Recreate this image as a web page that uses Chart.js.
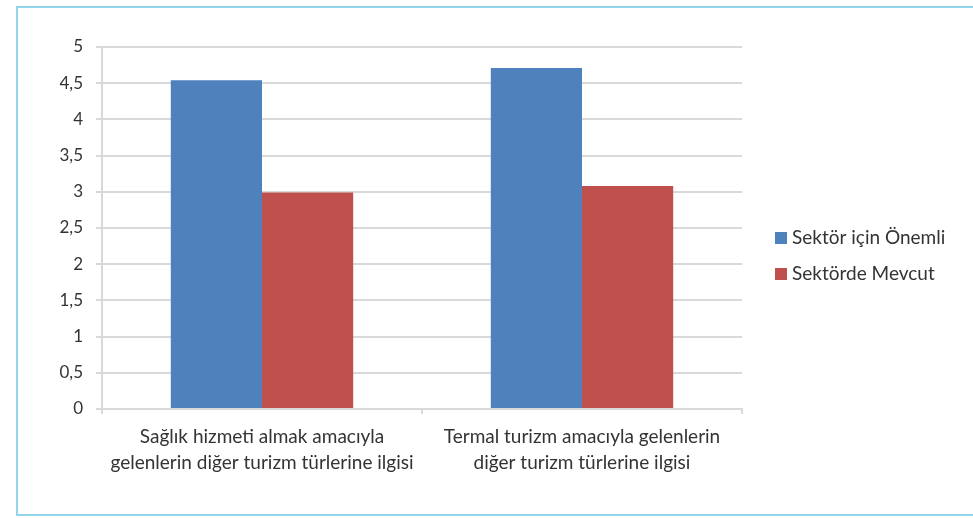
<!DOCTYPE html>
<html>
<head>
<meta charset="utf-8">
<script src="https://cdn.jsdelivr.net/npm/chart.js@4.4.0/dist/chart.umd.min.js"></script>
<style>
  html, body { margin: 0; padding: 0; background: #fff; }
  #wrap { position: relative; width: 973px; height: 518px; overflow: hidden; }
  #frame {
    position: absolute; left: 16px; top: 6px; width: 980px; height: 510px;
    border: 2px solid #92d5e8; box-sizing: border-box;
  }
  #chart { position: absolute; left: 0; top: 0; }
</style>
</head>
<body>
<div id="wrap">
  <div id="frame"></div>
  <canvas id="chart" width="973" height="518"></canvas>
</div>
<script>
const categories = [
  ['Sağlık hizmeti almak amacıyla', 'gelenlerin diğer turizm türlerine ilgisi'],
  ['Termal turizm amacıyla gelenlerin', 'diğer turizm türlerine ilgisi']
]
const seriesNames = ['Sektör için Önemli', 'Sektörde Mevcut']
const important = [4.54, 4.71]
const current = [2.99, 3.08]
const colors = ['#4f81bd', '#c0504d']

const textColor = '#333333'
const gridColor = '#d9d9d9'
const fontFamily = 'Lato, "Open Sans", sans-serif'

// legend drawn by hand, to the right of the plot
const sideLegend = {
  id: 'sideLegend',
  afterDraw (chart) {
    const ctx = chart.ctx
    ctx.save()
    ctx.font = '19px ' + fontFamily
    ctx.textBaseline = 'middle'
    chart.data.datasets.forEach((ds, i) => {
      const y = 238 + i * 36
      ctx.fillStyle = ds.backgroundColor
      ctx.fillRect(775, y - 6, 12, 12)
      ctx.fillStyle = textColor
      ctx.fillText(ds.label, 792, y)
    })
    ctx.restore()
  }
}

const ctx = document.getElementById('chart')
new Chart(ctx, {
  type: 'bar',
  data: {
    labels: categories,
    datasets: [
      { label: seriesNames[0], data: important, backgroundColor: colors[0] },
      { label: seriesNames[1], data: current, backgroundColor: colors[1] }
    ]
  },
  options: {
    responsive: false,
    animation: false,
    layout: { padding: { left: 0, top: 47, right: 231, bottom: 0 } },
    datasets: { bar: { categoryPercentage: 0.57, barPercentage: 1 } },
    plugins: {
      legend: { display: false },
      tooltip: { enabled: false }
    },
    scales: {
      x: {
        grid: { offset: true, drawOnChartArea: false, drawTicks: true, tickLength: 5, color: gridColor, lineWidth: 2 },
        border: { display: true, color: gridColor, width: 2 },
        ticks: {
          color: textColor,
          padding: 10,
          font: { family: fontFamily, size: 19, lineHeight: '26px' },
          maxRotation: 0
        },
        afterFit (scale) { scale.height = 109 }
      },
      y: {
        min: 0,
        max: 5,
        grid: { color: gridColor, lineWidth: 2, tickLength: 6 },
        border: { display: true, color: gridColor, width: 2 },
        ticks: {
          stepSize: 0.5,
          color: textColor,
          padding: 13,
          font: { family: fontFamily, size: 17 },
          callback: v => String(v).replace('.', ',')
        },
        afterFit (scale) { scale.width = 102 }
      }
    }
  },
  plugins: [sideLegend]
})
</script>
</body>
</html>
